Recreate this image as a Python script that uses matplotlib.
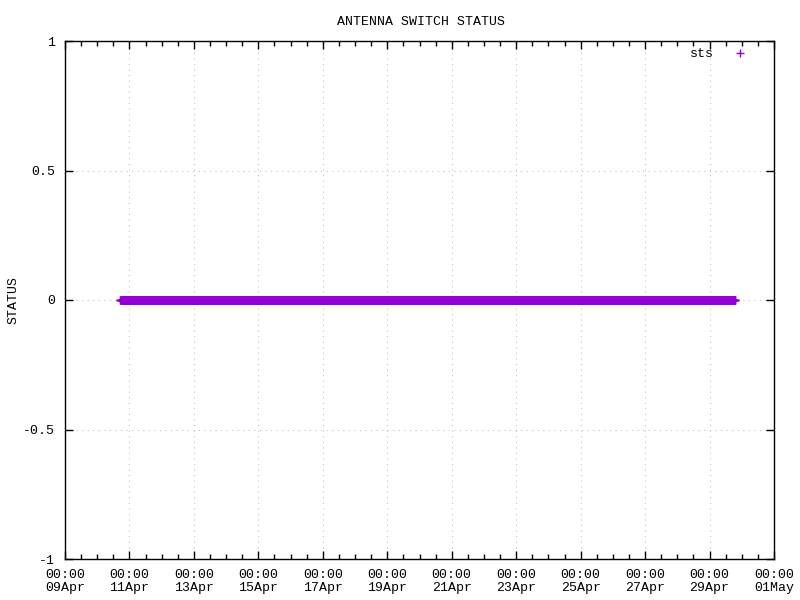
import matplotlib
matplotlib.use("Agg")
import matplotlib.pyplot as plt
import matplotlib.dates as mdates
import numpy as np
import pandas as pd

# ---- data ----
title = "ANTENNA SWITCH STATUS"
ylabel = "STATUS"
series_name = "sts"
first_sample = "2024-04-10 17:00"
last_sample = "2024-04-29 19:00"
sample_step = "10min"
status_value = 0
x_range = ("2024-04-09 00:00", "2024-05-01 00:00")
y_ticks = [-1, -0.5, 0, 0.5, 1]
y_tick_labels = ["-1", "-0.5", "0", "0.5", "1"]

times = pd.date_range(first_sample, last_sample, freq=sample_step)
values = np.full(len(times), status_value, dtype=float)

plt.rcParams['font.family'] = ['Liberation Mono', 'DejaVu Sans Mono']
plt.rcParams['font.size'] = 9.5

fig = plt.figure(figsize=(8, 6), dpi=100)
ax = fig.add_axes([65/800, (600-559)/600, 709/800, 518/600])

purple = "#9400d3"
ax.plot(times, values, linestyle='none', marker='+', markersize=5.2,
        markeredgewidth=1.0, color=purple, label=series_name)

ax.set_xlim(pd.Timestamp(x_range[0]), pd.Timestamp(x_range[1]))
ax.set_ylim(-1, 1)
ax.set_yticks(y_ticks)
ax.set_yticklabels(y_tick_labels)

ax.xaxis.set_major_locator(mdates.DayLocator(bymonthday=[1, 9, 11, 13, 15, 17, 19, 21, 23, 25, 27, 29]))
ax.xaxis.set_major_formatter(mdates.DateFormatter("%H:%M\n%d%b"))
ax.xaxis.set_minor_locator(mdates.HourLocator(byhour=[0, 12]))

ax.tick_params(axis='both', which='major', direction='in', length=6, width=1,
               top=True, right=True, colors='black', labelsize=9.5, pad=7)
ax.tick_params(axis='x', which='minor', direction='in', length=3.5, width=1,
               top=True, bottom=True)
ax.tick_params(axis='y', which='minor', left=False, right=False)
for lab in ax.get_xticklabels():
    lab.set_linespacing(1.15)

for s in ax.spines.values():
    s.set_linewidth(1.0)
    s.set_color('black')

ax.grid(True, which='major', color='#c4c4c4', linestyle=(0, (1, 4)), linewidth=0.8)
ax.set_axisbelow(True)

fig.text(421/800, 1 - 22/600, title, ha='center', va='center', fontsize=9.5)
fig.text(14/800, 0.5, ylabel, ha='center', va='center', rotation=90, fontsize=9.5)

ax.legend(loc='upper right', frameon=False, markerfirst=False, handlelength=1.0,
          handletextpad=1.5, borderaxespad=0.3, fontsize=9.5,
          bbox_to_anchor=(1 - 18/709, 1 + 2/518))

fig.savefig("out.png", dpi=100)
